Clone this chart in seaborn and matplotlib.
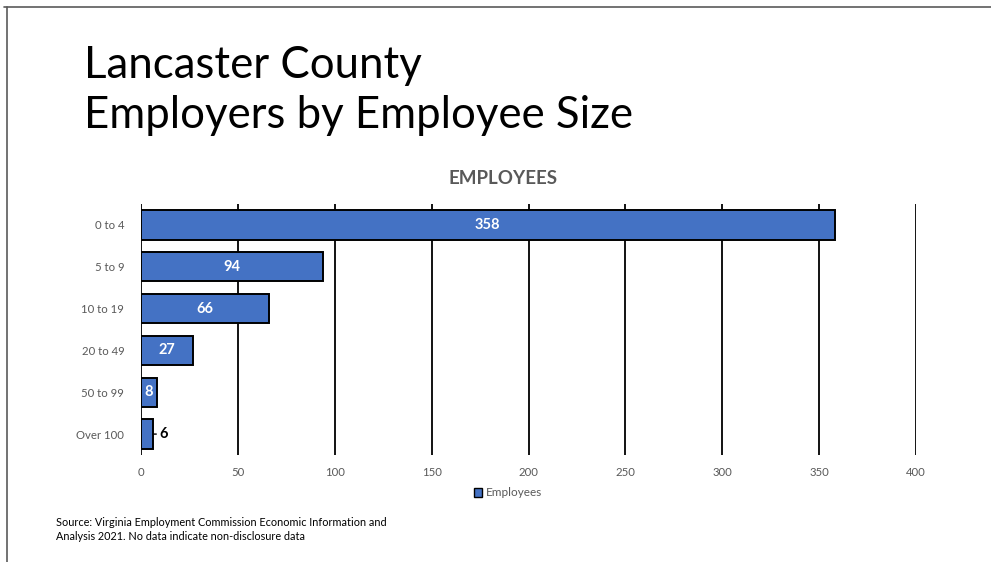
import matplotlib
matplotlib.use("Agg")
import matplotlib.pyplot as plt
from matplotlib.patches import Patch
from matplotlib.lines import Line2D
import seaborn as sns
import pandas as pd

# Employers by establishment size (count of employers)
categories = ["0 to 4", "5 to 9", "10 to 19", "20 to 49", "50 to 99", "Over 100"]
employees = [358, 94, 66, 27, 8, 6]
x_ticks = [0, 50, 100, 150, 200, 250, 300, 350, 400]

df = pd.DataFrame({"size": categories, "Employees": employees})

sns.set_theme(style="white")
plt.rcParams["font.family"] = ["Lato", "DejaVu Sans"]

W, H = 991, 562
fig = plt.figure(figsize=(W / 100, H / 100), dpi=100)
fig.patch.set_facecolor("white")

# slide frame (top and left edges)
frame_col = "#5a5a5a"
fig.add_artist(Line2D([4 / W, 1], [1 - 7 / H, 1 - 7 / H], color=frame_col, lw=1.2))
fig.add_artist(Line2D([7 / W, 7 / W], [1 - 7 / H, 0], color=frame_col, lw=1.2))

# slide title
fig.text(84 / W, 1 - 66 / H, "Lancaster County", fontsize=31.5, color="black",
         ha="left", va="center")
fig.text(84 / W, 1 - 116 / H, "Employers by Employee Size", fontsize=31.5,
         color="black", ha="left", va="center")

# chart area
left, right, top, bottom = 141, 916, 204, 455
ax = fig.add_axes([left / W, 1 - bottom / H, (right - left) / W, (bottom - top) / H])

bar_col = "#4472C4"
sns.barplot(data=df, x="Employees", y="size", orient="h", color=bar_col,
            edgecolor="black", linewidth=1.4, width=0.7, saturation=1, ax=ax,
            zorder=3)

ax.set_xlim(0, 400)
ax.set_ylim(len(categories) - 0.5, -0.5)
ax.set_xticks(x_ticks)
ax.set_xlabel("")
ax.set_ylabel("")
for s in ax.spines.values():
    s.set_visible(False)
ax.grid(axis="x", color="black", lw=1.3, zorder=0)
ax.grid(axis="y", visible=False)
ax.tick_params(axis="both", length=0, labelsize=8.2, labelcolor="#595959")
ax.tick_params(axis="x", pad=9)
ax.tick_params(axis="y", pad=12)

# value labels
for i, v in enumerate(employees):
    if v >= 8:
        ax.text(v / 2, i, str(v), ha="center", va="center", color="white",
                fontsize=10.5, fontweight="bold", zorder=4)
    else:
        ax.annotate(str(v), xy=(v, i), xytext=(5, 0), textcoords="offset points",
                    ha="left", va="center", color="black", fontsize=10.5,
                    fontweight="bold",
                    arrowprops=dict(arrowstyle="-", color="black", lw=1,
                                    shrinkA=0, shrinkB=0))

# chart title
fig.text(503 / W, 1 - 179 / H, "EMPLOYEES", fontsize=13.5, fontweight="bold",
         color="#595959", ha="center", va="center")

# legend
handle = Patch(facecolor=bar_col, edgecolor="black", linewidth=1)
fig.legend([handle], ["Employees"], loc="center", bbox_to_anchor=(508 / W, 1 - 493 / H),
           frameon=False, fontsize=8.5, labelcolor="#595959", handlelength=0.7,
           handleheight=0.7, handletextpad=0.3)

# source note
fig.text(56 / W, 1 - 522 / H, "Source: Virginia Employment Commission Economic Information and",
         fontsize=7.8, color="black", ha="left", va="center")
fig.text(56 / W, 1 - 537 / H, "Analysis 2021. No data indicate non-disclosure data",
         fontsize=7.8, color="black", ha="left", va="center")

fig.savefig("out.png", dpi=100)
